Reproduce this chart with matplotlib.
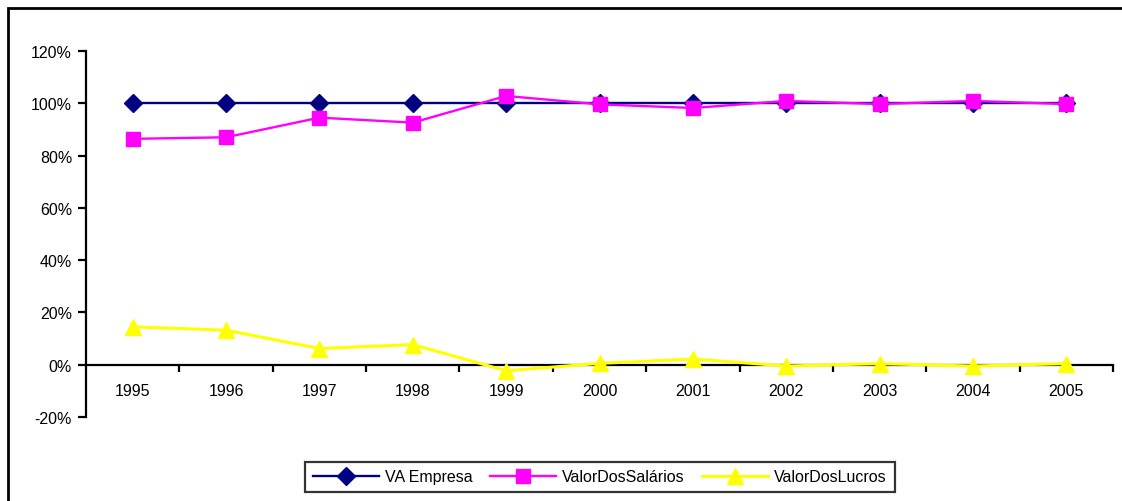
import matplotlib
matplotlib.use("Agg")
import matplotlib.pyplot as plt
from matplotlib.patches import Rectangle
from matplotlib.ticker import FuncFormatter, FixedLocator

plt.rcParams['font.family'] = ['Liberation Sans', 'DejaVu Sans']

# data (percent)
anos = ['1995', '1996', '1997', '1998', '1999', '2000',
        '2001', '2002', '2003', '2004', '2005']
va_empresa = [100, 100, 100, 100, 100, 100, 100, 100, 100, 100, 100]
salarios = [86.4, 87.0, 94.5, 92.6, 102.8, 99.6, 98.2, 100.9, 99.7, 100.9, 99.7]
lucros = [14.5, 13.2, 6.2, 7.7, -2.3, 0.5, 2.2, -0.5, 0.4, -0.5, 0.4]

W, H = 1122, 502
fig = plt.figure(figsize=(W / 100, H / 100), dpi=100)

# outer frame of the chart
fig.patches.append(Rectangle((8 / W, -0.1), 1.2, 1 - 9 / H + 0.1,
                             transform=fig.transFigure, fill=False,
                             edgecolor='black', linewidth=2))

ax = fig.add_axes([86 / W, 1 - 418 / H, (1113 - 86) / W, (418 - 52) / H])

x = list(range(len(anos)))
ax.plot(x, va_empresa, color='#000080', lw=1.7, marker='D', ms=9,
        label='VA Empresa', zorder=3)
ax.plot(x, salarios, color='#FF00FF', lw=1.7, marker='s', ms=10,
        label='ValorDosSalários', zorder=4)
ax.plot(x, lucros, color='#FFFF00', lw=2.2, marker='^', ms=11,
        label='ValorDosLucros', zorder=5)

ax.set_xlim(-0.5, len(anos) - 0.5)
ax.set_ylim(-20, 120)
ax.set_yticks(range(-20, 121, 20))
ax.yaxis.set_major_formatter(FuncFormatter(lambda v, p: f'{v:.0f}%'))

# category axis sits on the zero line
ax.spines['top'].set_visible(False)
ax.spines['right'].set_visible(False)
ax.spines['bottom'].set_position(('data', 0))
ax.spines['left'].set_linewidth(1.6)
ax.spines['bottom'].set_linewidth(1.6)
ax.xaxis.set_major_locator(FixedLocator([i - 0.5 for i in range(1, len(anos) + 1)]))
ax.xaxis.set_major_formatter(FuncFormatter(lambda v, p: ''))
ax.xaxis.set_minor_locator(FixedLocator(x))
ax.set_xticklabels(anos, minor=True)
ax.tick_params(axis='x', which='major', direction='out', length=5, width=1.6)
ax.tick_params(axis='x', which='minor', length=0, pad=13, labelsize=11.5)
ax.tick_params(axis='y', direction='out', length=6, width=1.6, pad=4,
               labelsize=11.5)

leg = fig.legend(loc='center', bbox_to_anchor=(600 / W, 1 - 478 / H),
                 ncol=3, frameon=True, fancybox=False, fontsize=11.5,
                 handlelength=4.1, columnspacing=1.1, borderpad=0.5,
                 handletextpad=0.4)
leg.get_frame().set_edgecolor('black')
leg.get_frame().set_linewidth(1.6)

fig.savefig('out.png', dpi=100)
